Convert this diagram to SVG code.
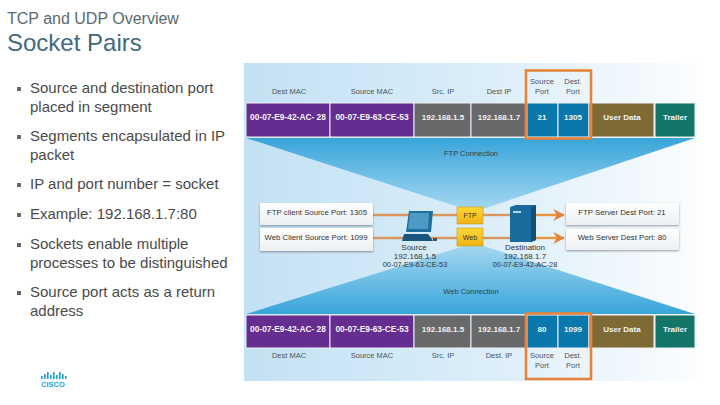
<svg xmlns="http://www.w3.org/2000/svg" width="720" height="405" viewBox="0 0 720 405">
<style>
text{font-family:"Liberation Sans",Arial,sans-serif}
.b{font-size:15px;fill:#4a4a4a}
.d{fill:#f4f4f4;font-size:8px;font-weight:bold;text-anchor:middle}
.m{font-size:8.400px}
.l{fill:#4a5560;font-size:7.500px;text-anchor:middle}
.c{fill:#30404c;font-size:7.500px;text-anchor:middle}
.t{font-size:7.800px;fill:#333;text-anchor:middle}
.s{font-size:8px;fill:#333;text-anchor:middle}
.w{fill:url(#wg);filter:url(#sh)}
.conn{stroke:#d8985f;stroke-width:2.4;fill:none}
.o{fill:none;stroke:#e8833a;stroke-width:2.6}
</style>
<defs>
<linearGradient id="bg" x1="0" x2="1" y1="0" y2="0"><stop offset="0" stop-color="#c3e1f3"/><stop offset=".55" stop-color="#dceef9"/><stop offset="1" stop-color="#fbfdfe"/></linearGradient>
<linearGradient id="t1" x1="0" x2="0" y1="0" y2="1"><stop offset="0" stop-color="#38a5da"/><stop offset="1" stop-color="#a8d9f2"/></linearGradient>
<linearGradient id="t2" x1="0" x2="0" y1="1" y2="0"><stop offset="0" stop-color="#38a5da"/><stop offset="1" stop-color="#a8d9f2"/></linearGradient>
<linearGradient id="wg" x1="0" x2="0" y1="0" y2="1"><stop offset="0" stop-color="#ffffff"/><stop offset="1" stop-color="#eceff1"/></linearGradient>
<linearGradient id="yg" x1="0" x2="0" y1="0" y2="1"><stop offset="0" stop-color="#fdd835"/><stop offset="1" stop-color="#f0b215"/></linearGradient>
<filter id="sh" x="-5%" y="-10%" width="110%" height="130%"><feDropShadow dx="0" dy="1" stdDeviation="0.8" flood-color="#445" flood-opacity=".55"/></filter>
<marker id="ar" viewBox="0 0 10 10" refX="9" refY="5" markerWidth="5" markerHeight="5" orient="auto" markerUnits="strokeWidth"><path d="M0 0L10 5L0 10L3 5Z" fill="#e8833a"/></marker>
</defs>

<g id="title">
<text x="7" y="24" style="font-size:16px;fill:#5a6a72">TCP and UDP Overview</text>
<text x="7" y="51" style="font-size:24px;fill:#3f6a7e">Socket Pairs</text>
</g>
<g id="bullets">
<g fill="#666"><rect x="17" y="87" width="4" height="4"/><rect x="17" y="135" width="4" height="4"/><rect x="17" y="183" width="4" height="4"/><rect x="17" y="213" width="4" height="4"/><rect x="17" y="243" width="4" height="4"/><rect x="17" y="291" width="4" height="4"/></g>
<text class="b" x="30" y="93">Source and destination port</text>
<text class="b" x="30" y="112">placed in segment</text>
<text class="b" x="30" y="141">Segments encapsulated in IP</text>
<text class="b" x="30" y="160">packet</text>
<text class="b" x="30" y="189">IP and port number = socket</text>
<text class="b" x="30" y="219">Example: 192.168.1.7:80</text>
<text class="b" x="30" y="249">Sockets enable multiple</text>
<text class="b" x="30" y="268">processes to be distinguished</text>
<text class="b" x="30" y="297">Source port acts as a return</text>
<text class="b" x="30" y="316">address</text>
</g>
<g id="logo" fill="#1ba0d7">
<rect x="41" y="376" width="1.6" height="3"/><rect x="44" y="374" width="1.6" height="5"/><rect x="47" y="372" width="1.6" height="7"/><rect x="50" y="375" width="1.6" height="4"/><rect x="53" y="372" width="1.6" height="7"/><rect x="56" y="375" width="1.6" height="4"/><rect x="59" y="372" width="1.6" height="7"/><rect x="62" y="374" width="1.6" height="5"/><rect x="65" y="376" width="1.6" height="3"/>
<text x="53" y="386.500" text-anchor="middle" style="font-size:7.500px;font-weight:bold">CISCO</text>
</g>

<g id="panel">
<rect x="244" y="63" width="453" height="318" fill="url(#bg)"/>
<path d="M246 138H695L474 212Z" fill="url(#t1)"/>
<path d="M246 314H695L474 243Z" fill="url(#t2)"/>
<text class="c" x="471" y="156">FTP Connection</text>
<text class="c" x="471" y="294">Web Connection</text>
</g>

<g id="top-labels">
<text class="l" x="289" y="94">Dest MAC</text>
<text class="l" x="372" y="94">Source MAC</text>
<text class="l" x="443" y="94">Src. IP</text>
<text class="l" x="499" y="94">Dest IP</text>
<text class="l" x="542" y="84">Source</text><text class="l" x="542" y="94">Port</text>
<text class="l" x="573" y="84">Dest.</text><text class="l" x="573" y="94">Port</text>
</g>
<g id="top-row" stroke="#eef0f4" stroke-width="1">
<rect x="246" y="103" width="84" height="34" fill="#662d91"/>
<rect x="330" y="103" width="84" height="34" fill="#662d91"/>
<rect x="414" y="103" width="57" height="34" fill="#68696b"/>
<rect x="471" y="103" width="56" height="34" fill="#68696b"/>
<rect x="527" y="103" width="31" height="34" fill="#0a77ad"/>
<rect x="558" y="103" width="31" height="34" fill="#0a77ad"/>
<rect x="589" y="103" width="65" height="34" fill="#7e6a35"/>
<rect x="655" y="103" width="40" height="34" fill="#137468"/>
</g>
<g id="top-data">
<text class="d m" x="288" y="120">00-07-E9-42-AC- 28</text>
<text class="d m" x="372" y="120">00-07-E9-63-CE-53</text>
<text class="d" x="443" y="120">192.168.1.5</text>
<text class="d" x="499" y="120">192.168.1.7</text>
<text class="d" x="542" y="120">21</text>
<text class="d" x="573" y="120">1305</text>
<text class="d" x="622" y="120">User Data</text>
<text class="d" x="675" y="120">Trailer</text>
</g>
<rect id="top-port-box" class="o" x="526" y="70.500" width="65" height="68"/>

<g id="bottom-row" stroke="#eef0f4" stroke-width="1">
<rect x="246" y="315" width="84" height="33" fill="#662d91"/>
<rect x="330" y="315" width="84" height="33" fill="#662d91"/>
<rect x="414" y="315" width="57" height="33" fill="#68696b"/>
<rect x="471" y="315" width="56" height="33" fill="#68696b"/>
<rect x="527" y="315" width="31" height="33" fill="#0a77ad"/>
<rect x="558" y="315" width="31" height="33" fill="#0a77ad"/>
<rect x="589" y="315" width="65" height="33" fill="#7e6a35"/>
<rect x="655" y="315" width="40" height="33" fill="#137468"/>
</g>
<g id="bottom-data">
<text class="d m" x="288" y="332">00-07-E9-42-AC- 28</text>
<text class="d m" x="372" y="332">00-07-E9-63-CE-53</text>
<text class="d" x="443" y="332">192.168.1.5</text>
<text class="d" x="499" y="332">192.168.1.7</text>
<text class="d" x="542" y="332">80</text>
<text class="d" x="573" y="332">1099</text>
<text class="d" x="622" y="332">User Data</text>
<text class="d" x="675" y="332">Trailer</text>
</g>
<g id="bottom-labels">
<text class="l" x="289" y="358">Dest MAC</text>
<text class="l" x="372" y="358">Source MAC</text>
<text class="l" x="443" y="358">Src. IP</text>
<text class="l" x="499" y="358">Dest. IP</text>
<text class="l" x="542" y="358">Source</text><text class="l" x="542" y="368">Port</text>
<text class="l" x="573" y="358">Dest.</text><text class="l" x="573" y="368">Port</text>
</g>
<rect id="bottom-port-box" class="o" x="526" y="313.500" width="65" height="65.500"/>

<g id="connectors">
<path class="conn" d="M372 215H457"/>
<path class="conn" d="M372 238H457"/>
<path class="conn" d="M483 215H510"/>
<path class="conn" d="M483 238H510"/>
<path class="conn" d="M535 215H564" marker-end="url(#ar)" style="stroke:#e8953f"/>
<path class="conn" d="M535 238H564" marker-end="url(#ar)" style="stroke:#e8953f"/>
</g>

<g id="ftp-client"><rect class="w" x="260" y="203" width="113" height="22"/><text class="t" x="317" y="215">FTP client Source Port: 1305</text></g>
<g id="web-client"><rect class="w" x="260" y="228" width="113" height="23"/><text class="t" x="316" y="240">Web Client Source Port: 1099</text></g>
<g id="ftp-server"><rect class="w" x="566" y="203" width="113" height="22"/><text class="t" x="622" y="215">FTP Server Dest Port: 21</text></g>
<g id="web-server"><rect class="w" x="566" y="229" width="113" height="21"/><text class="t" x="622" y="240">Web Server Dest Port: 80</text></g>

<g id="ftp-tag"><rect x="457" y="207" width="26" height="17" fill="url(#yg)" stroke="#c9962a" stroke-width=".6"/><text x="470" y="218" text-anchor="middle" style="font-size:7px;fill:#333">FTP</text></g>
<g id="web-tag"><rect x="457" y="228" width="26" height="18" fill="url(#yg)" stroke="#c9962a" stroke-width=".6"/><text x="470" y="240" text-anchor="middle" style="font-size:7px;fill:#333">Web</text></g>

<g id="source">
<path d="M409 211H433L431 232H406Z" fill="#1f6f9e"/>
<path d="M410 213H429L428 229H408Z" fill="#4d9ac4"/>
<path d="M404 234H428L433 241H402Z" fill="#17567d"/>
<rect x="433" y="238" width="4" height="3" fill="#35576b"/>
<text class="s" x="414" y="250">Source</text>
<text class="s" x="415" y="258.500">192.168.1.5</text>
<text class="s" x="415" y="267" style="font-size:7.400px">00-07-E9-63-CE-53</text>
</g>
<g id="destination">
<path d="M510 207L516 205H536V240L531 242H510Z" fill="#1b6c9e"/>
<path d="M531 207L536 205V240L531 242Z" fill="#134f77"/>
<rect x="513" y="211" width="8" height="2" fill="#a9d6ee"/>
<text class="s" x="525" y="249.500">Destination</text>
<text class="s" x="525" y="258.500">192.168.1.7</text>
<text class="s" x="525" y="267" style="font-size:7.400px">00-07-E9-42-AC-28</text>
</g>
</svg>
